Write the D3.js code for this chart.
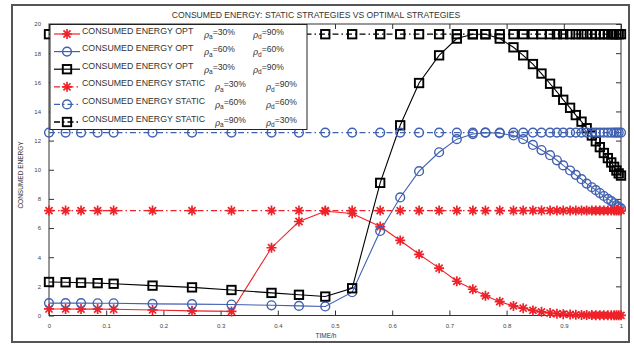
<!DOCTYPE html>
<html>
<head>
<meta charset="utf-8">
<script src="https://cdn.jsdelivr.net/npm/d3@7"></script>
<style>
  html, body { margin: 0; padding: 0; background: #fff; }
  svg { display: block; font-family: "Liberation Sans", Arial, sans-serif; }
</style>
</head>
<body>
<svg id="chart" width="634" height="345"></svg>
<script>
// Sample times (h) shared by every series
const time = [0, 0.029, 0.056, 0.085, 0.113, 0.181, 0.25, 0.319, 0.389, 0.437,
  0.483, 0.53, 0.579, 0.614, 0.647, 0.682, 0.713, 0.741, 0.763, 0.788,
  0.812, 0.829, 0.846, 0.861, 0.876, 0.888, 0.899, 0.911, 0.921, 0.931,
  0.94, 0.949, 0.956, 0.963, 0.97, 0.977, 0.983, 0.988, 0.992, 0.996, 1.0];

// Optimal strategy, rho_a = 30%, rho_d = 90%
const optRed = [0.45, 0.45, 0.44, 0.44, 0.43, 0.38, 0.32, 0.28, 4.65, 6.45,
  7.15, 7.0, 6.1, 5.15, 4.2, 3.25, 2.35, 1.8, 1.35, 0.95,
  0.66, 0.5, 0.35, 0.25, 0.17, 0.12, 0.09, 0.07, 0.05, 0.04,
  0.03, 0.03, 0.02, 0.02, 0.02, 0.01, 0.01, 0.01, 0.01, 0.01, 0.01];

// Optimal strategy, rho_a = 60%, rho_d = 60%
const optBlue = [0.85, 0.85, 0.85, 0.84, 0.84, 0.8, 0.78, 0.75, 0.7, 0.66,
  0.62, 1.6, 5.8, 8.1, 9.9, 11.2, 12.1, 12.45, 12.55, 12.5,
  12.35, 12.1, 11.7, 11.35, 11.0, 10.65, 10.3, 9.95, 9.65, 9.35,
  9.05, 8.8, 8.6, 8.4, 8.2, 8.0, 7.85, 7.7, 7.55, 7.45, 7.35];

// Optimal strategy, rho_a = 30%, rho_d = 90% (third case)
const optBlack = [2.3, 2.28, 2.25, 2.22, 2.18, 2.05, 1.93, 1.75, 1.55, 1.42,
  1.3, 1.87, 9.1, 13.05, 15.95, 17.85, 19.0, 19.3, 19.3, 19.0,
  18.4, 17.85, 17.25, 16.6, 15.9, 15.35, 14.8, 14.25, 13.75, 13.3,
  12.85, 12.35, 11.95, 11.55, 11.15, 10.8, 10.5, 10.2, 9.95, 9.75, 9.6];

// Static strategies: constant consumption levels
const staticLevels = [7.2, 12.55, 19.3];

const xTicks = [0, 0.1, 0.2, 0.3, 0.4, 0.5, 0.6, 0.7, 0.8, 0.9, 1];
const xTickLabels = ["0", "0.1", "0.2", "0.3", "0.4", "0.5", "0.6", "0.7", "0.8", "0.9", "1"];
const yTicks = [0, 2, 4, 6, 8, 10, 12, 14, 16, 18, 20];

const legendNames = ["CONSUMED ENERGY OPT", "CONSUMED ENERGY OPT", "CONSUMED ENERGY OPT",
  "CONSUMED ENERGY STATIC", "CONSUMED ENERGY STATIC", "CONSUMED ENERGY STATIC"];
const legendRhoA = ["=30%", "=60%", "=30%", "=30%", "=60%", "=90%"];
const legendRhoD = ["=90%", "=60%", "=90%", "=90%", "=60%", "=30%"];

const RED = "#ee2229", BLUE = "#4060b0", BLACK = "#000";

const svg = d3.select("#chart");

// Outer figure frame
svg.append("rect").attr("x", 12).attr("y", 5).attr("width", 617).attr("height", 337)
  .attr("fill", "none").attr("stroke", "#555").attr("stroke-width", 2);

const plotLeft = 49, plotRight = 621, plotTop = 24, plotBottom = 315.5;
const x = d3.scaleLinear().domain([0, 1]).range([plotLeft, plotRight]);
const y = d3.scaleLinear().domain([0, 20]).range([plotBottom, plotTop]);

const axisColor = "#333";

// Axis box
svg.append("rect").attr("x", plotLeft).attr("y", plotTop)
  .attr("width", plotRight - plotLeft).attr("height", plotBottom - plotTop)
  .attr("fill", "none").attr("stroke", axisColor).attr("stroke-width", 1);

// Axes with inward ticks
const gx = svg.append("g").attr("transform", `translate(0,${plotBottom})`)
  .call(d3.axisBottom(x).tickValues(xTicks).tickFormat((d, i) => xTickLabels[i]).tickSizeInner(-5).tickSizeOuter(0).tickPadding(8));
const gxTop = svg.append("g").attr("transform", `translate(0,${plotTop})`)
  .call(d3.axisTop(x).tickValues(xTicks).tickFormat("").tickSizeInner(-5).tickSizeOuter(0));
const gy = svg.append("g").attr("transform", `translate(${plotLeft},0)`)
  .call(d3.axisLeft(y).tickValues(yTicks).tickFormat(d3.format("d")).tickSizeInner(-5).tickSizeOuter(0).tickPadding(8));
const gyR = svg.append("g").attr("transform", `translate(${plotRight},0)`)
  .call(d3.axisRight(y).tickValues(yTicks).tickFormat("").tickSizeInner(-5).tickSizeOuter(0));
[gx, gxTop, gy, gyR].forEach(g => {
  g.select(".domain").remove();
  g.selectAll(".tick line").attr("stroke", axisColor);
  g.selectAll(".tick text").attr("fill", "#444").attr("font-size", 6).attr("font-family", "Liberation Sans, Arial, sans-serif");
});

// Titles
svg.append("text").attr("x", 316).attr("y", 18).attr("text-anchor", "middle")
  .attr("font-size", 8.6).attr("fill", "#333").text("CONSUMED ENERGY: STATIC STRATEGIES VS OPTIMAL STRATEGIES");
svg.append("text").attr("x", 326).attr("y", 338).attr("text-anchor", "middle")
  .attr("font-size", 6.5).attr("fill", "#333").text("TIME/h");
svg.append("text").attr("transform", "translate(23,175) rotate(-90)").attr("text-anchor", "middle")
  .attr("font-size", 6.5).attr("fill", "#333").text("CONSUMED ENERGY");

// Marker drawers
function drawMarker(g, kind, color) {
  if (kind === "star") {
    const r = 5, d = r * Math.SQRT1_2;
    g.append("path")
      .attr("d", `M${-r},0L${r},0M0,${-r}L0,${r}M${-d},${-d}L${d},${d}M${-d},${d}L${d},${-d}`)
      .attr("stroke", color).attr("stroke-width", 1.7).attr("fill", "none");
  } else if (kind === "circle") {
    g.append("circle").attr("r", 4.4).attr("fill", "none").attr("stroke", color).attr("stroke-width", 1.4);
  } else {
    g.append("rect").attr("x", -4.2).attr("y", -4.2).attr("width", 8.4).attr("height", 8.4)
      .attr("fill", "none").attr("stroke", color).attr("stroke-width", 1.9);
  }
}

const line = d3.line().x(d => x(d[0])).y(d => y(d[1]));
const plot = svg.append("g");

function drawSeries(values, color, kind, dashed) {
  const pts = time.map((t, i) => [t, values[i]]);
  plot.append("path").datum(pts).attr("d", line).attr("fill", "none")
    .attr("stroke", color).attr("stroke-width", dashed ? 1.3 : 1.1)
    .attr("stroke-dasharray", dashed ? "6,3,1.5,3" : null);
  plot.append("g").selectAll("g").data(pts).join("g")
    .attr("transform", d => `translate(${x(d[0])},${y(d[1])})`)
    .each(function () { drawMarker(d3.select(this), kind, color); });
}

drawSeries(optRed, RED, "star", false);
drawSeries(optBlue, BLUE, "circle", false);
drawSeries(optBlack, BLACK, "square", false);
drawSeries(time.map(() => staticLevels[0]), RED, "star", true);
drawSeries(time.map(() => staticLevels[1]), BLUE, "circle", true);
drawSeries(time.map(() => staticLevels[2]), BLACK, "square", true);

// Legend
const legend = svg.append("g");
legend.append("rect").attr("x", 50).attr("y", 24.5).attr("width", 257).attr("height", 105)
  .attr("fill", "#fff").attr("stroke", "#222").attr("stroke-width", 1);
const legendStyles = [[RED, "star", false], [BLUE, "circle", false], [BLACK, "square", false],
  [RED, "star", true], [BLUE, "circle", true], [BLACK, "square", true]];
legendNames.forEach((name, i) => {
  const cy = 34 + i * 17.6;
  const [color, kind, dashed] = legendStyles[i];
  const row = legend.append("g");
  row.append("line").attr("x1", 54).attr("x2", 80).attr("y1", cy).attr("y2", cy)
    .attr("stroke", color).attr("stroke-width", dashed ? 1.3 : 1.2)
    .attr("stroke-dasharray", dashed ? "6,3,1.5,3" : null);
  const m = row.append("g").attr("transform", `translate(67,${cy})`);
  drawMarker(m, kind, color);
  row.append("text").attr("x", 82).attr("y", cy - 0.5).attr("font-size", 8.8).attr("fill", "#333").text(name);
  const ax = dashed ? 215 : 204, dx = dashed ? 266 : 253;
  [[ax, "a", legendRhoA[i]], [dx, "d", legendRhoD[i]]].forEach(([px, sub, val]) => {
    const t = row.append("text").attr("x", px).attr("y", cy + 3.5).attr("font-size", 8.6).attr("fill", "#333");
    t.append("tspan").attr("font-style", "italic").attr("font-family", "DejaVu Serif, serif").text("ρ");
    t.append("tspan").attr("font-size", 6.5).attr("dy", 1.5).text(sub);
    t.append("tspan").attr("dy", -4.5).text(val);
  });
});
</script>
</body>
</html>
